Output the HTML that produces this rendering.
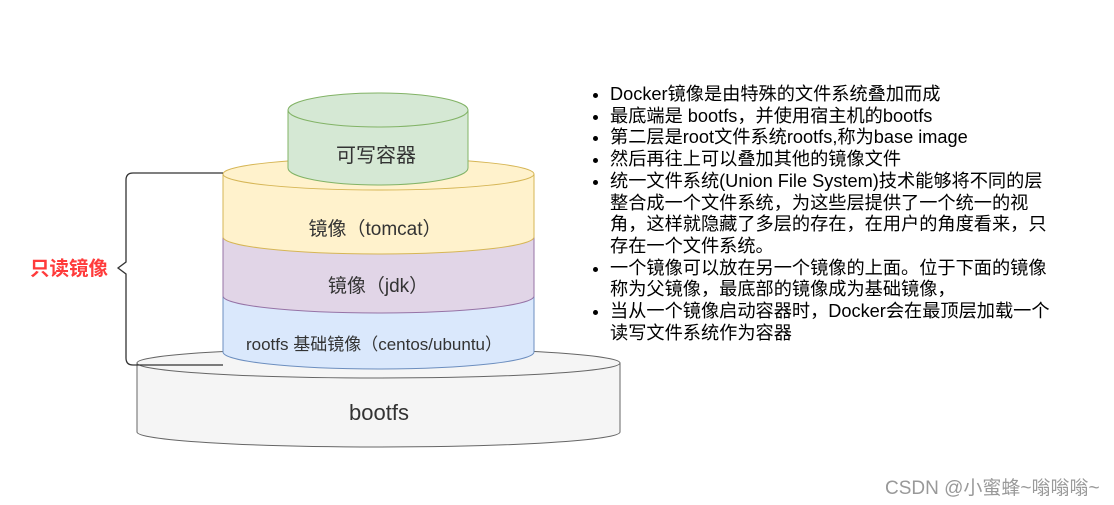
<!DOCTYPE html>
<html><head><meta charset="utf-8"><style>
html,body{margin:0;padding:0;background:#fff;}
body{width:1114px;height:505px;position:relative;overflow:hidden;font-family:"Liberation Sans","Noto Sans CJK SC",sans-serif;}
svg{position:absolute;left:0;top:0;}
ul{position:absolute;left:592px;top:84px;margin:0;padding:0 0 0 18px;font-size:18.2px;line-height:21.7px;color:#000;width:520px;white-space:nowrap;}
li{margin:0;}
.wm{position:absolute;left:885px;top:473px;font-size:19px;color:#999;white-space:nowrap;}
</style></head><body>
<svg width="1114" height="505" font-family="Liberation Sans, Noto Sans CJK SC, sans-serif">
  <path d="M137 363 L137 432 A241.5 15 0 0 0 620 432 L620 363 Z" fill="#f5f5f5" stroke="#666" stroke-width="1"/>
  <ellipse cx="378.5" cy="363" rx="241.5" ry="15" fill="#f5f5f5" stroke="#666"/>
  <path d="M223 296 L223 352 A155.5 17 0 0 0 534 352 L534 296 Z" fill="#dae8fc" stroke="#6c8ebf"/>
  <path d="M223 237 L223 296 A155.5 17 0 0 0 534 296 L534 237 Z" fill="#e1d5e7" stroke="#9673a6"/>
  <path d="M223 174 L223 237 A155.5 17 0 0 0 534 237 L534 174 Z" fill="#fff2cc" stroke="#d6b656"/>
  <ellipse cx="378.5" cy="174" rx="155.5" ry="16" fill="#fff2cc" stroke="#d6b656"/>
  <path d="M288 110 L288 168 A90 17 0 0 0 468 168 L468 110 Z" fill="#d5e8d4" stroke="#82b366"/>
  <ellipse cx="378" cy="110" rx="90" ry="17" fill="#d5e8d4" stroke="#82b366"/>
  <path d="M223 173 H133 Q126 173 126 180 V262 L118 268 L126 274 V358 Q126 365 133 365 H223" fill="none" stroke="#333" stroke-width="1.3"/>
  <g text-anchor="middle" fill="#333">
    <text x="376" y="162" font-size="20">可写容器</text>
    <text x="375" y="235" font-size="19">镜像（tomcat）</text>
    <text x="378" y="292" font-size="19">镜像（jdk）</text>
    <text x="374" y="350" font-size="17">rootfs 基础镜像（centos/ubuntu）</text>
    <text x="379" y="420" font-size="22">bootfs</text>
  </g>
  <text x="30" y="275" font-size="19.5" font-weight="bold" fill="#ff3b3b">只读镜像</text>
</svg>
<ul>
<li>Docker镜像是由特殊的文件系统叠加而成</li>
<li>最底端是 bootfs，并使用宿主机的bootfs</li>
<li>第二层是root文件系统rootfs,称为base image</li>
<li>然后再往上可以叠加其他的镜像文件</li>
<li>统一文件系统(Union File System)技术能够将不同的层<br>整合成一个文件系统，为这些层提供了一个统一的视<br>角，这样就隐藏了多层的存在，在用户的角度看来，只<br>存在一个文件系统。</li>
<li>一个镜像可以放在另一个镜像的上面。位于下面的镜像<br>称为父镜像，最底部的镜像成为基础镜像，</li>
<li>当从一个镜像启动容器时，Docker会在最顶层加载一个<br>读写文件系统作为容器</li>
</ul>
<div class="wm">CSDN @小蜜蜂~嗡嗡嗡~</div>
</body></html>
